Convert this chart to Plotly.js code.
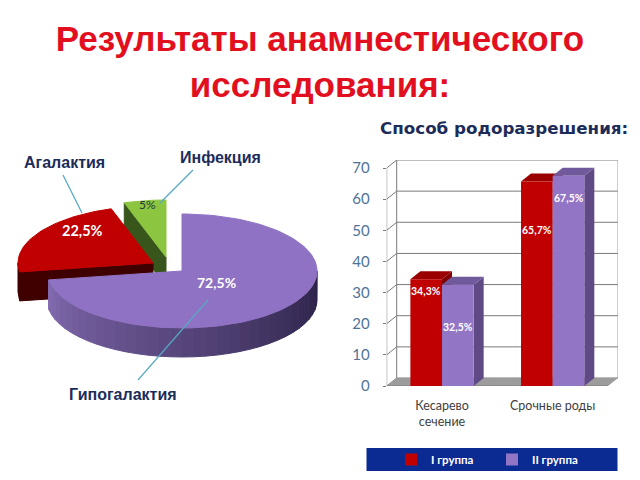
<!DOCTYPE html>
<html><head><meta charset="utf-8">
<script src="https://cdn.plot.ly/plotly-3.0.1.min.js"></script>
<style>html,body{margin:0;padding:0;background:#fff}#c{width:640px;height:480px}</style>
</head><body><div id="c"></div>
<script>
// ---- data ----
const pieLabels = ['Гипогалактия', 'Агалактия', 'Инфекция'];
const pieValues = [72.5, 22.5, 5];
const barCategories = ['Кесарево<br>сечение', 'Срочные роды'];
const groupNames = ['I группа', 'II группа'];
const group1Values = [34.3, 65.7];
const group2Values = [32.5, 67.5];
const yTicks = [0, 10, 20, 30, 40, 50, 60, 70];

// ---- styling / layout ----
const W = 640, H = 480;
const px = x => x / W, py = y => 1 - y / H;
const pct = v => String(v).replace('.', ',') + '%';
const BODY = 'Lato, "Open Sans", sans-serif';
const RED = '#c00000', PURPLE = '#9375c6';

// pie geometry (pixels → unit axes)
const CX = 182, CY = 271, RX = 135, RY = 57, DEPTH = 29 / 57;
const pieFace = ['#8f72c3', '#c00000', '#8cc640'];
const pieCut = ['#5a4680', '#3f0000', '#38561c'];
const explodeX = [0, -29 / RX, -16 / RX];
const explodeY = [0, 8 / RY, 14 / RY];
const drawOrder = [2, 1, 0];

const traces = [];
const toRad = d => d * Math.PI / 180;
function poly(xs, ys, color) {
  traces.push({type: 'scatter', xaxis: 'x2', yaxis: 'y2', mode: 'lines', x: xs, y: ys,
    fill: 'toself', fillcolor: color, line: {color: color, width: 1},
    hoverinfo: 'skip', showlegend: false});
}
const total = pieValues.reduce((a, b) => a + b, 0);
const angles = []; let acc = 0;
pieValues.forEach(v => { angles.push([acc, acc + v / total * 360]); acc += v / total * 360; });

function mix(a, b, t) { return 'rgb(' + a.map((c, i) => Math.round(c + (b[i] - c) * t)).join(',') + ')'; }
const sideLight = [132, 108, 178], sideDark = [44, 34, 72];

drawOrder.forEach(i => {
  const [a0, a1] = angles[i], ox = explodeX[i], oy = explodeY[i];
  const P = a => [ox + Math.sin(toRad(a)), oy + Math.cos(toRad(a))];
  // outer wall: only the near half of the rim
  const s0 = Math.max(a0, 90), s1 = Math.min(a1, 270);
  if (s1 > s0) {
    const step = i === 0 ? 5 : (s1 - s0);
    for (let a = s0; a < s1 - 1e-6; a += step) {
      const b = Math.min(a + step, s1), p = P(a), q = P(b);
      const t = (a - s0) / Math.max(s1 - s0, 1);
      const col = i === 0 ? mix(sideDark, sideLight, Math.pow(t, 1.1)) : pieCut[i];
      const xs = [p[0]], ys = [p[1]];
      for (let k = 1; k <= 4; k++) { const r = P(a + (b - a) * k / 4); xs.push(r[0]); ys.push(r[1]); }
      xs.push(q[0], p[0], p[0]); ys.push(q[1] - DEPTH, p[1] - DEPTH, p[1]);
      poly(xs, ys, col);
    }
  }
  // radial cut facing the viewer
  if (a0 > 180 && a0 < 360) {
    const p = P(a0);
    poly([ox, p[0], p[0], ox, ox], [oy, p[1], p[1] - DEPTH, oy - DEPTH, oy], pieCut[i]);
  }
  // top face
  const xs = [ox], ys = [oy];
  for (let a = a0; a < a1; a += 2) { const p = P(a); xs.push(p[0]); ys.push(p[1]); }
  const e = P(a1); xs.push(e[0], ox); ys.push(e[1], oy);
  poly(xs, ys, pieFace[i]);
});

// bars (front faces are real bar traces; depth faces are shapes beneath them)
const xPos = barCategories.map((_, i) => i);
const groupValues = [group1Values, group2Values];
const barColors = [RED, PURPLE];
groupValues.forEach((vals, g) => traces.push({
  type: 'bar', x: xPos, y: vals, name: groupNames[g], xaxis: 'x', yaxis: 'y',
  marker: {color: barColors[g]}, hoverinfo: 'skip'
}));

// pixel frame of the bar chart
const X0 = 386.7, XF = 608, XB = 618, YF0 = 386, YF70 = 168, YB70 = 160;
const unitX = (XF - X0) / 2, unitY = (YF0 - YF70) / 70;
const dX = (XB - XF) / unitX, dY = (YF70 - YB70) / unitY;
const BW = (1 - 0.428) / 2;
const shapes = [];
const L = -0.5, Rt = 1.5;
const path = pts => 'M' + pts.map(p => p.join(',')).join('L');
const sh = (pts, fill, line) => shapes.push({type: 'path', xref: 'x', yref: 'y', layer: 'below',
  path: path(pts) + (fill ? 'Z' : ''), fillcolor: fill || 'rgba(0,0,0,0)',
  line: {color: line || 'rgba(0,0,0,0)', width: line ? 1 : 0}});

// walls, grid and floor
yTicks.forEach(v => sh([[L, v], [L + dX, v + dY], [Rt + dX, v + dY]], null, '#7a7a7a'));
sh([[L + dX, dY], [L + dX, 70 + dY]], null, '#7a7a7a');
sh([[Rt + dX, dY], [Rt + dX, 70 + dY]], null, '#9a9a9a');
sh([[L, 0], [Rt, 0], [Rt + dX, dY], [L + dX, dY]], '#9c9c9c');
sh([[L, 0], [L, 70]], null, '#7a7a7a');
sh([[L, 0], [Rt, 0]], null, '#7a7a7a');

const sideCol = ['#7e0000', '#5f4a86'], topCol = ['#9a0000', '#715a9c'];
xPos.forEach(x => {
  [0, 1].forEach(g => {
    const l = x + (g - 1) * BW, r = l + BW, v = groupValues[g][x];
    sh([[r, 0], [r + dX, dY], [r + dX, v + dY], [r, v]], sideCol[g]);
    sh([[l, v], [r, v], [r + dX, v + dY], [l + dX, v + dY]], topCol[g]);
  });
});

// leader lines
const leader = [[63, 175, 82, 213], [193, 170, 160, 203], [208, 300, 138, 380]];
const paperShapes = leader.map(s => ({type: 'line', xref: 'paper', yref: 'paper',
  x0: px(s[0]), y0: py(s[1]), x1: px(s[2]), y1: py(s[3]), line: {color: '#56a9c4', width: 1.2}}));
// legend band
paperShapes.push({type: 'rect', xref: 'paper', yref: 'paper', layer: 'below',
  x0: px(366.5), x1: px(617.5), y0: py(471), y1: py(448), fillcolor: '#0b2a92', line: {width: 0}});

const navy = '#1c2c5a';
const annotations = [];
const note = (t, x, y, size, color, bold, fam) => annotations.push({
  text: bold ? '<b>' + t + '</b>' : t, xref: 'paper', yref: 'paper', x: px(x), y: py(y),
  xanchor: 'center', yanchor: 'middle', showarrow: false,
  font: {family: fam || BODY, size: size, color: color}});
note(pieLabels[1], 64, 162, 16, navy, true, '"Liberation Sans"');
note(pieLabels[2], 220, 157, 16, navy, true, '"Liberation Sans"');
note(pieLabels[0], 123, 394, 16, navy, true, '"Liberation Sans"');
note(pct(pieValues[0]), 216, 282, 14, '#fff', true);
note(pct(pieValues[1]), 82, 231, 14.5, '#fff', true);
note(pct(pieValues[2]), 147, 204, 12, '#1f3a3a', false);
note('Способ родоразрешения:', 504, 128, 16.7, navy, true, '"DejaVu Sans"');

// bar value labels, placed in data space
const labelY1 = [30.5, 50];
const labelY2 = [19, 60.5];
[[group1Values, labelY1, -BW / 2], [group2Values, labelY2, BW / 2]].forEach(([vals, ys, off]) => {
  vals.forEach((v, i) => annotations.push({text: '<b>' + pct(v) + '</b>', xref: 'x', yref: 'y',
    x: i + off, y: ys[i], showarrow: false, xanchor: 'center', yanchor: 'middle',
    font: {family: BODY, size: 10.5, color: '#fff'}}));
});

const layout = {
  width: W, height: H, margin: {l: 0, r: 0, t: 0, b: 0}, showlegend: true,
  paper_bgcolor: '#fff', plot_bgcolor: 'rgba(0,0,0,0)',
  title: {text: '<b>Результаты анамнестического<br>исследования:</b>', x: 0.5, xanchor: 'center',
    y: py(51), yanchor: 'middle', font: {family: '"Liberation Sans", Arial, sans-serif', size: 35, color: '#e2101f'}},
  barmode: 'group', bargap: 0.428, bargroupgap: 0,
  xaxis: {domain: [px(X0), px(XB)], range: [L, Rt + dX], tickmode: 'array', tickvals: xPos,
    ticktext: barCategories, showgrid: false, zeroline: false, showline: false, ticks: '',
    ticklabelstandoff: 10, fixedrange: true,
    tickfont: {family: BODY, size: 12.5, color: '#404040'}},
  yaxis: {domain: [py(YF0), py(YB70)], range: [0, 70 + dY], tickmode: 'array', tickvals: yTicks,
    showgrid: false, zeroline: false, showline: false, ticks: 'outside', ticklen: 3, tickcolor: '#7a7a7a',
    ticklabelstandoff: 10, fixedrange: true,
    tickfont: {family: BODY, size: 15, color: '#4f7396'}},
  xaxis2: {domain: [0, 1], range: [-CX / RX, (W - CX) / RX], visible: false, fixedrange: true, anchor: 'y2'},
  yaxis2: {domain: [0, 1], range: [-(H - CY) / RY, CY / RY], visible: false, fixedrange: true, anchor: 'x2'},
  legend: {orientation: 'h', x: px(391), y: py(459.5), xanchor: 'left', yanchor: 'middle',
    bgcolor: 'rgba(0,0,0,0)', traceorder: 'normal', entrywidth: 56, entrywidthmode: 'pixels',
    itemclick: false, itemdoubleclick: false,
    font: {family: BODY, size: 11.5, color: '#fff', weight: 700}},
  shapes: shapes.concat(paperShapes),
  annotations: annotations
};
Plotly.newPlot('c', traces, layout, {displayModeBar: false, staticPlot: true});
</script></body></html>
